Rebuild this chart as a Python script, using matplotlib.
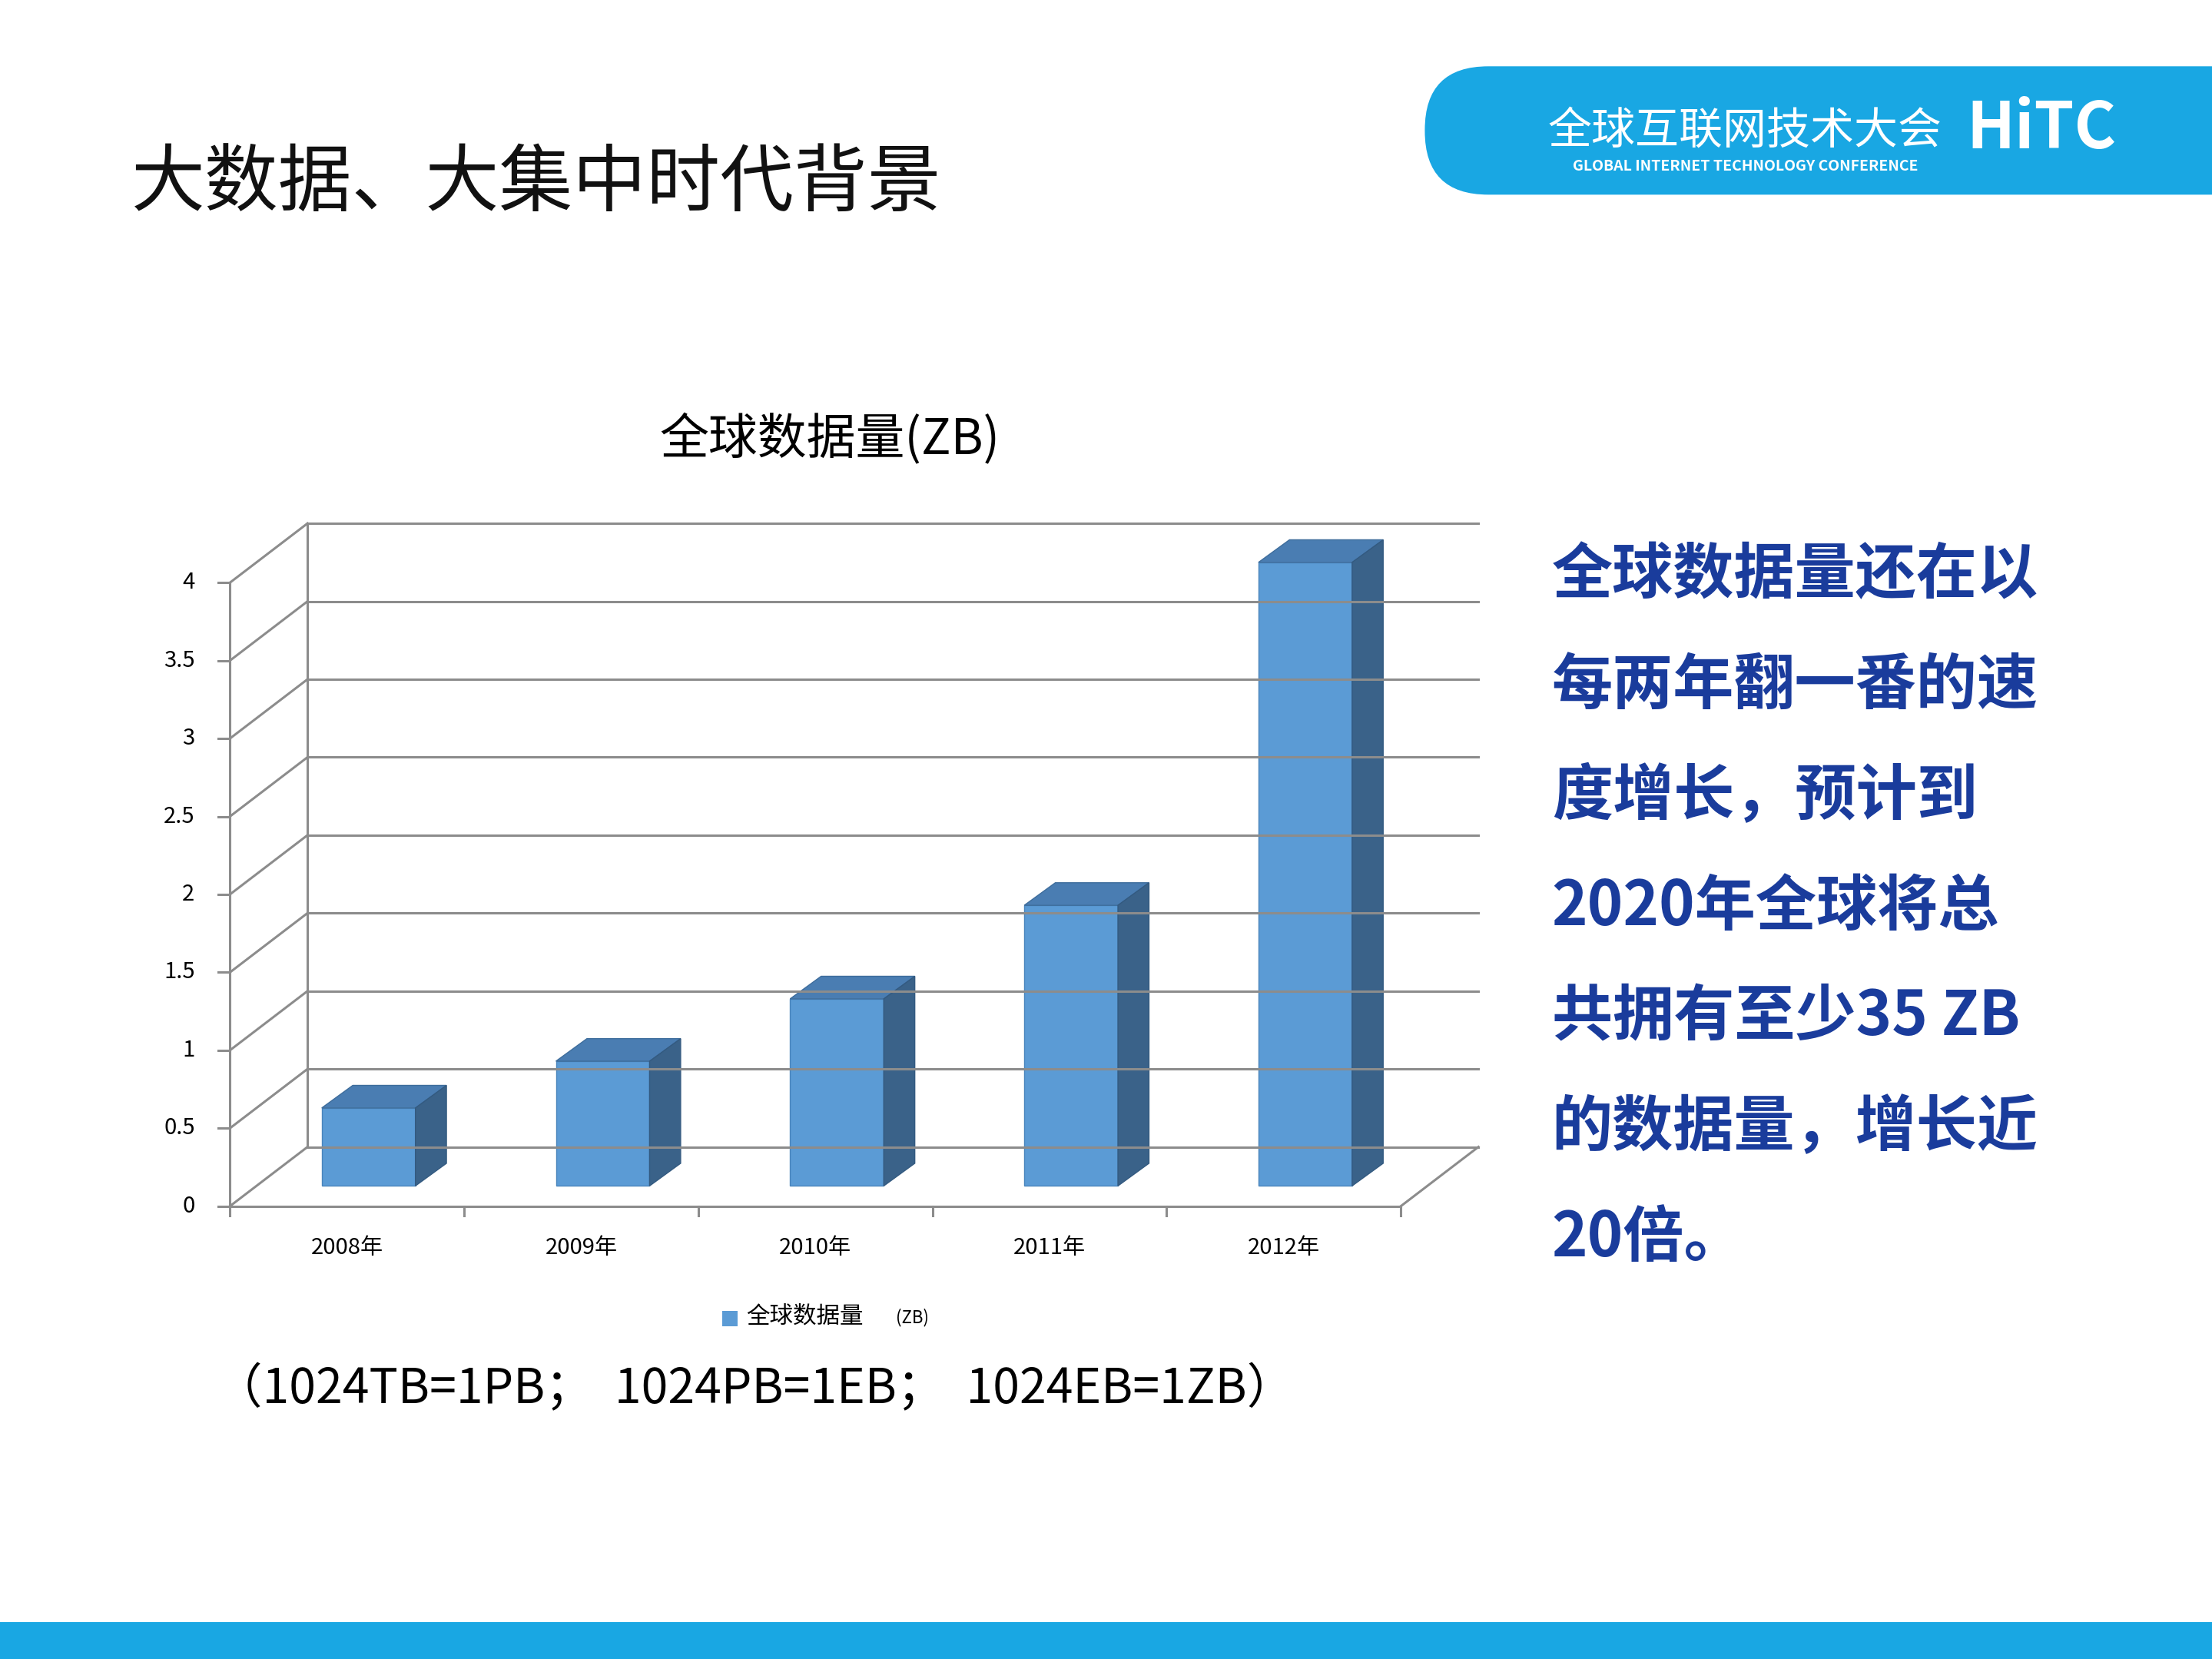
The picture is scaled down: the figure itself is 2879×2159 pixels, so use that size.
import matplotlib
matplotlib.use("Agg")
import matplotlib.pyplot as plt
from matplotlib.patches import Polygon, FancyBboxPatch, Rectangle

plt.rcParams['font.family'] = ['Noto Sans CJK SC', 'DejaVu Sans']

categories = ["2008年", "2009年", "2010年", "2011年", "2012年"]
values = [0.5, 0.8, 1.2, 1.8, 4.0]
yticks = [0, 0.5, 1, 1.5, 2, 2.5, 3, 3.5, 4]
ytick_labels = ["0", "0.5", "1", "1.5", "2", "2.5", "3", "3.5", "4"]
series_name = "全球数据量(ZB)"
side_lines = ["全球数据量还在以", "每两年翻一番的速", "度增长，预计到", "2020年全球将总",
              "共拥有至少35 ZB", "的数据量，增长近", "20倍。"]

W, H = 1568, 1176
fig = plt.figure(figsize=(28.79, 21.59), dpi=100)
def fx(x): return x / W
def fy(y): return 1 - y / H

# header
hdr = fig.add_axes([0, 0, 1, 1], zorder=-1)
hdr.set_xlim(0, W); hdr.set_ylim(H, 0); hdr.axis('off')
hdr.add_patch(FancyBboxPatch((1010, 47), 630, 91, boxstyle="round,pad=0,rounding_size=45",
                             fc="#19A7E3", ec="none", mutation_aspect=1))
hdr.add_patch(Rectangle((0, 1150), W, 26, fc="#19A7E3", ec="none"))
fig.text(fx(1237), fy(93), "全球互联网技术大会", color="white", fontsize=41, ha="center", va="center")
fig.text(fx(1237), fy(118), "GLOBAL INTERNET TECHNOLOGY CONFERENCE", color="white", fontsize=14,
         ha="center", va="center", fontweight="bold")
fig.text(fx(1447), fy(92), "HiTC", color="white", fontsize=60, ha="center", va="center",
         fontweight="bold", fontstyle="italic")

fig.text(fx(93), fy(130), "大数据、大集中时代背景", fontsize=69, ha="left", va="center", color="#111111")
fig.text(fx(588), fy(312), series_name, fontsize=46, ha="center", va="center", fontweight="medium")
for i, line in enumerate(side_lines):
    fig.text(fx(1100), fy(408 + i * 78.3), line, fontsize=57, ha="left", va="center",
             color="#1A3C9C", fontweight="bold")
fig.text(fx(152), fy(985), "（1024TB=1PB；  1024PB=1EB；  1024EB=1ZB）", fontsize=45,
         ha="left", va="center")

# chart
ax = fig.add_axes([fx(163), fy(855), (1050 - 163) / W, (855 - 371) / H])
ax.set_xlim(-0.5, -0.5 + (1050 - 163) / 166)
ax.set_ylim(0, (855 - 371) / 110.5)
ax.axis('off')
dx, dy = 55 / 166, 42 / 110.5
n = len(categories)
gc = "#8C8C8C"
lw = 2.2
for v, lab in zip(yticks, ytick_labels):
    ax.plot([-0.5, -0.5 + dx], [v, v + dy], color=gc, lw=lw, clip_on=False)
    ax.plot([-0.5 + dx, n - 0.5 + dx], [v + dy, v + dy], color=gc, lw=lw, clip_on=False)
    ax.plot([-0.55, -0.5], [v, v], color=gc, lw=lw, clip_on=False)
    ax.text(-0.65, v, lab, ha="right", va="center", fontsize=21)
ax.plot([-0.5, -0.5], [0, yticks[-1]], color=gc, lw=lw, clip_on=False)
ax.plot([-0.5 + dx] * 2, [dy, yticks[-1] + dy], color=gc, lw=lw, clip_on=False)
ax.plot([-0.5, n - 0.5], [0, 0], color=gc, lw=lw, clip_on=False)
ax.plot([n - 0.5, n - 0.5 + dx], [0, dy], color=gc, lw=lw, clip_on=False)
for i in range(n + 1):
    ax.plot([i - 0.5, i - 0.5], [0, -0.06], color=gc, lw=lw, clip_on=False)
for i, c in enumerate(categories):
    ax.text(i, -0.27, c, ha="center", va="center", fontsize=21)

base = 0.13
bw = 0.4
bdx, bdy = 22 / 166, 16 / 110.5
for i, v in enumerate(values):
    x0 = i - 0.108
    x1 = x0 + bw
    top = v + base
    ax.add_patch(Polygon([(x0, base), (x1, base), (x1, top), (x0, top)], closed=True,
                         fc="#5B9BD5", ec="#4A85BC", lw=1, clip_on=False))
    ax.add_patch(Polygon([(x0, top), (x1, top), (x1 + bdx, top + bdy), (x0 + bdx, top + bdy)],
                         closed=True, fc="#4A7DB2", ec="#3E6D9C", lw=1, clip_on=False))
    ax.add_patch(Polygon([(x1, base), (x1 + bdx, base + bdy), (x1 + bdx, top + bdy), (x1, top)],
                         closed=True, fc="#3A6289", ec="#335A80", lw=1, clip_on=False))

# legend
fig.patches.append(Rectangle((fx(512), fy(940)), 11 / W, 11 / H, transform=fig.transFigure,
                             fc="#5B9BD5", ec="none"))
fig.text(fx(529), fy(933), "全球数据量", fontsize=22, ha="left", va="center")
fig.text(fx(635), fy(934), "(ZB)", fontsize=16, ha="left", va="center")

fig.savefig("out.png", dpi=100, facecolor="white")
